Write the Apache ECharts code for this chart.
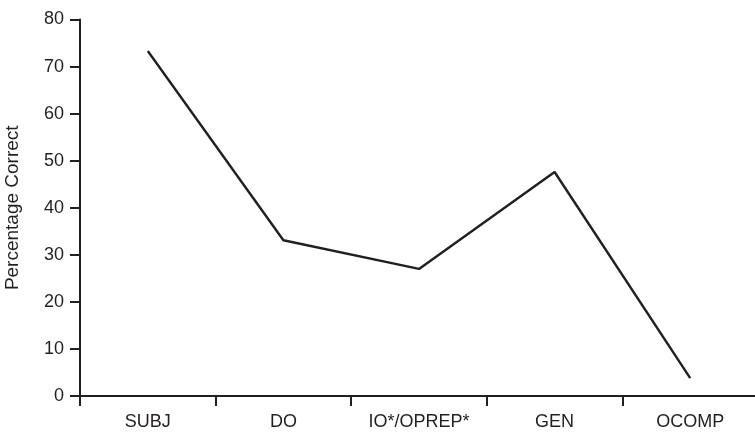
<!DOCTYPE html>
<html><head><meta charset="utf-8">
<script src="https://cdn.jsdelivr.net/npm/echarts@6/dist/echarts.min.js"></script>
<style>html,body{margin:0;padding:0;background:#fff}#c{width:755px;height:432px}</style>
</head><body><div id="c"></div>
<script>
const categories = ['SUBJ', 'DO', 'IO*/OPREP*', 'GEN', 'OCOMP'];
const values = [73.3, 33.1, 27.0, 47.6, 3.8];
const yMin = 0, yMax = 80, yStep = 10;
const yName = 'Percentage Correct';

const chart = echarts.init(document.getElementById('c'), null, {renderer: 'canvas'});
const ink = '#231f20';
const font = '"Liberation Sans", Arial, Helvetica, sans-serif';
chart.setOption({
  animation: false,
  grid: {left: 80, top: 19.5, width: 678, height: 376.5, containLabel: false, outerBoundsMode: 'none'},
  xAxis: {
    type: 'category', data: categories, boundaryGap: true,
    axisLine: {lineStyle: {color: ink, width: 2}},
    axisTick: {show: true, length: 10, inside: false, lineStyle: {color: ink, width: 2}, alignWithLabel: false},
    axisLabel: {color: ink, fontSize: 18, fontFamily: font, margin: 17},
    splitLine: {show: false}
  },
  yAxis: {
    type: 'value', min: yMin, max: yMax, interval: yStep,
    name: yName, nameLocation: 'middle', nameGap: 58, nameRotate: 90,
    nameTextStyle: {color: ink, fontSize: 19, fontFamily: font},
    axisLine: {show: true, lineStyle: {color: ink, width: 2}},
    axisTick: {show: true, length: 10, lineStyle: {color: ink, width: 2}},
    axisLabel: {color: ink, fontSize: 18, fontFamily: font, margin: 16},
    splitLine: {show: false}
  },
  series: [{
    type: 'line', data: values, symbol: 'none',
    lineStyle: {color: ink, width: 2.4}
  }]
});
</script></body></html>
